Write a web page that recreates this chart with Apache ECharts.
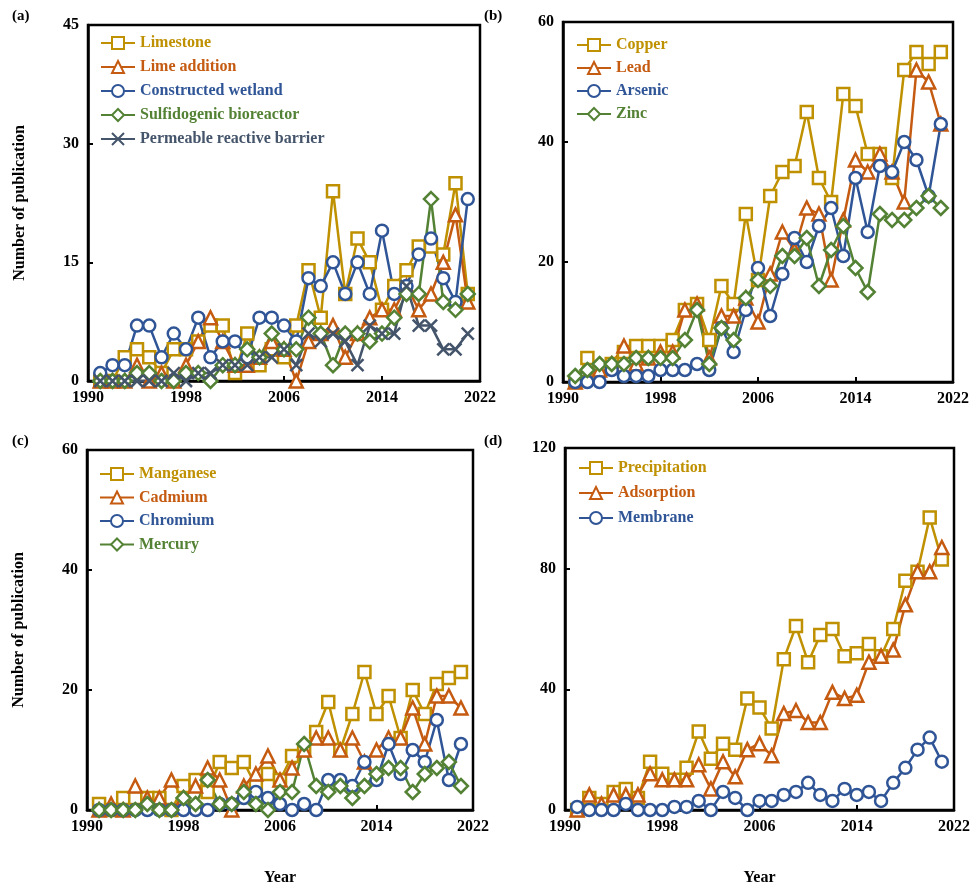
<!DOCTYPE html>
<html>
<head>
<meta charset="utf-8">
<script src="https://cdn.jsdelivr.net/npm/echarts@6/dist/echarts.min.js"></script>
<style>
  html, body { margin: 0; padding: 0; background: #fff; }
  #chart { width: 973px; height: 887px; }
</style>
</head>
<body>
<div id="chart"></div>
<script>
// Publication years shared by all four panels
const years = [1991, 1992, 1993, 1994, 1995, 1996, 1997, 1998, 1999, 2000,
               2001, 2002, 2003, 2004, 2005, 2006, 2007, 2008, 2009, 2010,
               2011, 2012, 2013, 2014, 2015, 2016, 2017, 2018, 2019, 2020, 2021];

// (a) Treatment approaches
const limestone   = [0, 0, 3, 4, 3, 1, 4, 4, 5, 7, 7, 1, 6, 2, 4, 3, 7, 14, 8, 24, 11, 18, 15, 9, 12, 14, 17, 17, 16, 25, 11];
const limeAdd     = [0, 0, 0, 2, 0, 1, 0, 2, 5, 8, 5, 2, 2, 3, 5, 4, 0, 5, 6, 7, 3, 6, 8, 9, 9, 12, 9, 11, 15, 21, 10];
const wetland     = [1, 2, 2, 7, 7, 3, 6, 4, 8, 3, 5, 5, 3, 8, 8, 7, 5, 13, 12, 15, 11, 15, 11, 19, 11, 12, 16, 18, 13, 10, 23];
const bioreactor  = [0, 0, 0, 1, 1, 0, 0, 1, 1, 0, 2, 2, 4, 3, 6, 4, 4, 8, 6, 2, 6, 6, 5, 6, 8, 11, 11, 23, 10, 9, 11];
const prb         = [0, 0, 0, 0, 0, 0, 1, 0, 1, 1, 2, 2, 2, 3, 3, 4, 2, 6, 5, 6, 5, 2, 7, 6, 6, 12, 7, 7, 4, 4, 6];

// (b) Copper, lead, arsenic, zinc
const copper      = [0, 4, 2, 3, 5, 6, 6, 6, 7, 12, 13, 7, 16, 13, 28, 17, 31, 35, 36, 45, 34, 30, 48, 46, 38, 38, 34, 52, 55, 53, 55];
const lead        = [0, 1, 2, 3, 6, 3, 4, 5, 5, 12, 13, 4, 11, 11, 14, 10, 18, 25, 22, 29, 28, 17, 27, 37, 35, 38, 35, 30, 52, 50, 43];
const arsenic     = [0, 0, 0, 2, 1, 1, 1, 2, 2, 2, 3, 2, 9, 5, 12, 19, 11, 18, 24, 20, 26, 29, 21, 34, 25, 36, 35, 40, 37, 31, 43];
const zinc        = [1, 2, 3, 3, 3, 4, 4, 4, 4, 7, 12, 3, 9, 7, 14, 17, 16, 21, 21, 24, 16, 22, 26, 19, 15, 28, 27, 27, 29, 31, 29];

// (c) Manganese, cadmium, chromium, mercury
const manganese   = [1, 0, 2, 2, 2, 2, 0, 4, 5, 3, 8, 7, 8, 4, 6, 5, 9, 10, 13, 18, 10, 16, 23, 16, 19, 12, 20, 16, 21, 22, 23];
const cadmium     = [0, 1, 0, 4, 2, 2, 5, 2, 4, 7, 5, 0, 4, 6, 9, 5, 7, 10, 12, 12, 10, 12, 8, 10, 12, 12, 17, 11, 19, 19, 17];
const chromium    = [0, 0, 0, 0, 0, 0, 0, 0, 0, 0, 1, 1, 2, 3, 2, 1, 0, 1, 0, 5, 5, 4, 8, 5, 11, 6, 10, 8, 15, 5, 11];
const mercury     = [0, 0, 0, 0, 1, 0, 0, 2, 1, 5, 1, 1, 3, 1, 0, 3, 3, 11, 4, 3, 4, 2, 4, 6, 7, 7, 3, 6, 7, 8, 4];

// (d) Removal mechanisms
const precipitation = [0, 4, 2, 6, 7, 4, 16, 12, 10, 14, 26, 17, 22, 20, 37, 34, 27, 50, 61, 49, 58, 60, 51, 52, 55, 51, 60, 76, 79, 97, 83];
const adsorption    = [0, 5, 2, 5, 5, 5, 12, 10, 10, 10, 15, 7, 16, 11, 20, 22, 18, 32, 33, 29, 29, 39, 37, 38, 49, 51, 53, 68, 79, 79, 87];
const membrane      = [1, 0, 0, 0, 2, 0, 0, 0, 1, 1, 3, 0, 6, 4, 0, 3, 3, 5, 6, 9, 5, 3, 7, 5, 6, 3, 9, 14, 20, 24, 16];

// Axis ranges per panel
const xRange = { min: 1990, max: 2022, interval: 8 };
const yRanges = [
  { min: 0, max: 45, interval: 15 },
  { min: 0, max: 60, interval: 20 },
  { min: 0, max: 60, interval: 20 },
  { min: 0, max: 120, interval: 40 }
];

const GOLD = '#BF9000', ORANGE = '#C55A11', BLUE = '#2F5597', GREEN = '#548235', SLATE = '#44546A';
const FONT = '"Liberation Serif", "Times New Roman", serif';
const CROSS = 'path://M0,0 L10,10 M10,0 L0,10';

const grids = [
  { left: 88,  top: 25,  width: 392, height: 356 },
  { left: 563, top: 22,  width: 390, height: 360 },
  { left: 87,  top: 450, width: 386, height: 365 },
  { left: 565, top: 448, width: 389, height: 364 }
];

const panels = [
  [
    ['Limestone', limestone, GOLD, 'rect', 12],
    ['Lime addition', limeAdd, ORANGE, 'triangle', 13],
    ['Constructed wetland', wetland, BLUE, 'circle', 12],
    ['Sulfidogenic bioreactor', bioreactor, GREEN, 'diamond', 14],
    ['Permeable reactive barrier', prb, SLATE, CROSS, 12]
  ],
  [
    ['Copper', copper, GOLD, 'rect', 12],
    ['Lead', lead, ORANGE, 'triangle', 13],
    ['Arsenic', arsenic, BLUE, 'circle', 12],
    ['Zinc', zinc, GREEN, 'diamond', 14]
  ],
  [
    ['Manganese', manganese, GOLD, 'rect', 12],
    ['Cadmium', cadmium, ORANGE, 'triangle', 13],
    ['Chromium', chromium, BLUE, 'circle', 12],
    ['Mercury', mercury, GREEN, 'diamond', 14]
  ],
  [
    ['Precipitation', precipitation, GOLD, 'rect', 12],
    ['Adsorption', adsorption, ORANGE, 'triangle', 13],
    ['Membrane', membrane, BLUE, 'circle', 12]
  ]
];

const legendPos = [
  { left: 100, top: 35 },
  { left: 576, top: 37 },
  { left: 99,  top: 466 },
  { left: 578, top: 460 }
];
const legendGaps = [8, 7, 7.5, 9];

const tickLabel = { fontFamily: FONT, fontWeight: 'bold', fontSize: 16, color: '#000' };
const axisLine = { show: true, lineStyle: { color: '#000', width: 2.5 } };

const xAxes = grids.map((g, i) => ({
  type: 'value', gridIndex: i,
  min: xRange.min, max: xRange.max, interval: xRange.interval,
  axisLine, splitLine: { show: false },
  axisTick: { show: true, inside: true, length: 5, lineStyle: { color: '#000', width: 2 } },
  axisLabel: Object.assign({ margin: 9, formatter: v => String(v) }, tickLabel),
  name: i >= 2 ? 'Year' : '',
  nameLocation: 'middle', nameGap: 60,
  nameTextStyle: { fontFamily: FONT, fontWeight: 'bold', fontSize: 16, color: '#000' }
}));

const yAxes = grids.map((g, i) => Object.assign({
  type: 'value', gridIndex: i,
  axisLine, splitLine: { show: false },
  axisTick: { show: true, inside: true, length: 5, lineStyle: { color: '#000', width: 2 } },
  axisLabel: Object.assign({ margin: 9 }, tickLabel),
  name: (i % 2 === 0) ? 'Number of publication' : '',
  nameLocation: 'middle', nameRotate: 90, nameGap: 60,
  nameTextStyle: { fontFamily: FONT, fontWeight: 'bold', fontSize: 16, color: '#000' }
}, yRanges[i]));

const series = [];
const legends = [];
panels.forEach((list, p) => {
  list.forEach(([name, values, color, symbol, size]) => {
    series.push({
      name, type: 'line', xAxisIndex: p, yAxisIndex: p,
      data: years.map((y, k) => [y, values[k]]),
      symbol, symbolSize: size, showSymbol: true, clip: false,
      lineStyle: { color, width: 2.5 },
      itemStyle: { color: symbol === CROSS ? color : '#fff', borderColor: color, borderWidth: 2.5 },
      emphasis: { disabled: true },
      animation: false
    });
  });
  legends.push({
    orient: 'vertical', left: legendPos[p].left, top: legendPos[p].top,
    padding: 0,
    itemWidth: 34, itemHeight: 15, itemGap: legendGaps[p],
    selectedMode: false,
    data: list.map(([name, , color]) => ({ name, textStyle: { color } })),
    textStyle: { fontFamily: FONT, fontWeight: 'bold', fontSize: 16 }
  });
});

const panelTags = [['(a)', 12, 9], ['(b)', 484, 9], ['(c)', 12, 434], ['(d)', 484, 434]];

const chart = echarts.init(document.getElementById('chart'), null, { renderer: 'canvas', width: 973, height: 887 });
chart.setOption({
  animation: false,
  backgroundColor: '#fff',
  grid: grids.map(g => Object.assign({ show: true, borderColor: '#000', borderWidth: 2.5, backgroundColor: 'transparent' }, g)),
  xAxis: xAxes,
  yAxis: yAxes,
  legend: legends,
  series,
  graphic: panelTags.map(([t, x, y]) => ({
    type: 'text', left: x, top: y,
    style: { text: t, font: 'bold 15px ' + FONT, fill: '#000' }
  }))
});
</script>
</body>
</html>
